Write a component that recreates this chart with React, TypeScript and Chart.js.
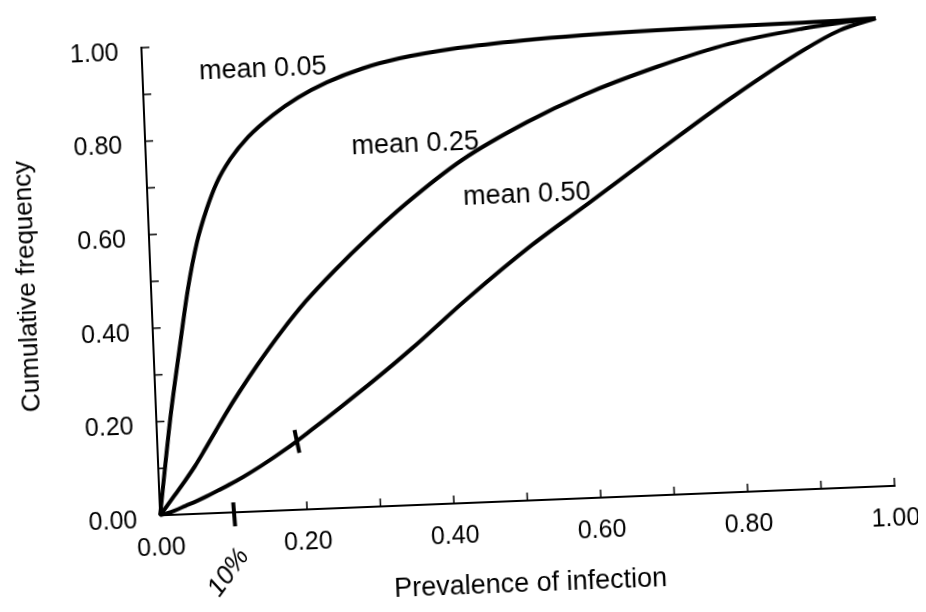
import React, { useEffect, useRef } from "react";
import { Chart, registerables } from "chart.js";

Chart.register(...registerables);

// Prevalence of infection (x) sample points
const prevalence = [0, 0.01, 0.02, 0.035, 0.05, 0.065, 0.08, 0.095, 0.115, 0.14, 0.175, 0.21, 0.25, 0.3, 0.35, 0.43, 0.52, 0.6, 0.7, 0.8, 0.9, 0.95, 1.0];
// Cumulative frequency for each mean
const mean005 = [0, 0.11, 0.215, 0.35, 0.48, 0.58, 0.65, 0.705, 0.755, 0.8, 0.845, 0.88, 0.91, 0.937, 0.955, 0.972, 0.983, 0.989, 0.993, 0.995, 0.997, 0.998, 1];
const mean025 = [0, 0.02, 0.04, 0.07, 0.102, 0.138, 0.175, 0.212, 0.258, 0.312, 0.382, 0.445, 0.507, 0.578, 0.643, 0.733, 0.808, 0.862, 0.915, 0.958, 0.984, 0.993, 1];
const mean050 = [0, 0.004, 0.009, 0.018, 0.027, 0.037, 0.048, 0.059, 0.075, 0.097, 0.131, 0.169, 0.214, 0.272, 0.333, 0.437, 0.545, 0.63, 0.738, 0.843, 0.938, 0.977, 1];

const seriesNames = ["mean 0.05", "mean 0.25", "mean 0.50"];
const seriesValues = [mean005, mean025, mean050];
// label anchors in data coordinates
const labelX = [0.164, 0.367, 0.516];
const labelY = [0.944, 0.771, 0.652];

const xTitle = "Prevalence of infection";
const yTitle = "Cumulative frequency";
const handNote = "10%";
const handNoteX = 0.09;
const handTickX = 0.1;
const handCrossX = 0.19;
const handCrossY = 0.147;

const FONT = '"Liberation Sans", Arial, Helvetica, sans-serif';

const annotPlugin = {
  id: "annot",
  afterDatasetsDraw(chart: any) {
    const { ctx } = chart;
    const x = chart.scales.x;
    const y = chart.scales.y;
    const x0 = x.getPixelForValue(0);
    const y0 = y.getPixelForValue(0);
    ctx.save();
    ctx.strokeStyle = "#000";
    ctx.lineWidth = 1.5;
    // inner minor ticks every 0.1
    for (let i = 1; i <= 10; i++) {
      const v = i / 10;
      const px = x.getPixelForValue(v);
      ctx.beginPath();
      ctx.moveTo(px, y0);
      ctx.lineTo(px, y0 - 8);
      ctx.stroke();
      const py = y.getPixelForValue(v);
      ctx.beginPath();
      ctx.moveTo(x0, py);
      ctx.lineTo(x0 + 8, py);
      ctx.stroke();
    }
    // series labels
    ctx.fillStyle = "#000";
    ctx.font = `27px ${FONT}`;
    ctx.textAlign = "center";
    ctx.textBaseline = "middle";
    seriesNames.forEach((n, i) => {
      ctx.fillText(n, x.getPixelForValue(labelX[i]), y.getPixelForValue(labelY[i]));
    });
    // handwritten marks
    ctx.lineWidth = 4;
    const ht = x.getPixelForValue(handTickX);
    ctx.beginPath();
    ctx.moveTo(ht, y0 - 10);
    ctx.lineTo(ht + 1, y0 + 14);
    ctx.stroke();
    const cx = x.getPixelForValue(handCrossX);
    const cy = y.getPixelForValue(handCrossY);
    ctx.beginPath();
    ctx.moveTo(cx - 2, cy - 11);
    ctx.lineTo(cx + 2, cy + 12);
    ctx.stroke();
    ctx.save();
    ctx.translate(x.getPixelForValue(handNoteX), y0 + 60);
    ctx.rotate(-0.9);
    ctx.font = `italic 26px ${FONT}`;
    ctx.fillText(handNote, 0, 0);
    ctx.restore();
    ctx.restore();
  },
};

export default function App() {
  const ref = useRef<HTMLCanvasElement | null>(null);
  useEffect(() => {
    if (!ref.current) return;
    const chart = new Chart(ref.current, {
      type: "line",
      data: {
        datasets: seriesValues.map((vals, i) => ({
          label: seriesNames[i],
          data: prevalence.map((p, j) => ({ x: p, y: vals[j] })),
          borderColor: "#000",
          borderWidth: 4,
          pointRadius: 0,
          cubicInterpolationMode: "monotone" as const,
          fill: false,
          clip: false as any,
        })),
      },
      options: {
        responsive: false,
        animation: false,
        layout: { padding: { top: 27, right: 31, left: 0, bottom: 0 } },
        plugins: { legend: { display: false }, tooltip: { enabled: false } },
        scales: {
          x: {
            type: "linear",
            min: 0,
            max: 1,
            afterFit: (s: any) => {
              s.height = 101;
              s.paddingLeft = 0;
              s.paddingRight = 0;
              s.paddingTop = 0;
              s.paddingBottom = 0;
            },
            grid: { display: false, drawTicks: false },
            border: { display: true, color: "#000", width: 2 },
            ticks: {
              stepSize: 0.2,
              padding: 18,
              color: "#000",
              font: { size: 25, family: FONT },
              callback: (v: any) => Number(v).toFixed(2),
              maxRotation: 0,
            },
            title: {
              display: true,
              text: xTitle,
              color: "#000",
              font: { size: 27, family: FONT },
              padding: { top: 0, bottom: 1 },
            },
          },
          y: {
            type: "linear",
            min: 0,
            max: 1,
            afterFit: (s: any) => {
              s.width = 144;
              s.paddingLeft = 0;
              s.paddingRight = 0;
              s.paddingTop = 0;
              s.paddingBottom = 0;
            },
            grid: { display: false, drawTicks: false },
            border: { display: true, color: "#000", width: 2 },
            ticks: {
              stepSize: 0.2,
              padding: 23,
              labelOffset: 5,
              color: "#000",
              font: { size: 25, family: FONT },
              callback: (v: any) => Number(v).toFixed(2),
            },
            title: {
              display: true,
              text: yTitle,
              color: "#000",
              font: { size: 26, family: FONT },
              padding: { top: 5, bottom: 0 },
            },
          },
        },
      },
      plugins: [annotPlugin],
    });
    return () => chart.destroy();
  }, []);
  return (
    <div style={{ width: 910, height: 596, background: "#fff" }}>
      <canvas
        ref={ref}
        width={910}
        height={596}
        style={{ display: "block", transform: "rotate(-2.3deg)" }}
      />
    </div>
  );
}
